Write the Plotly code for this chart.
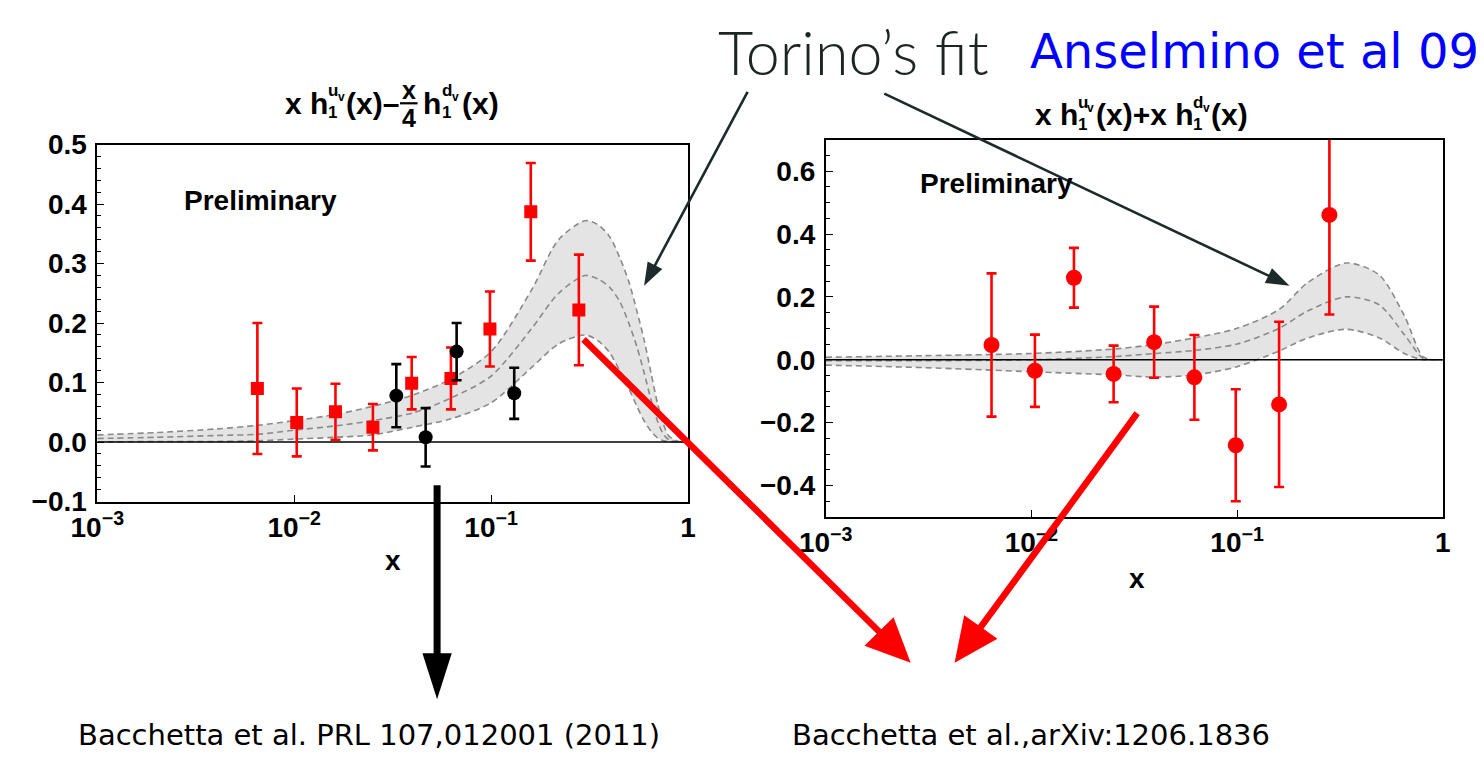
import plotly.graph_objects as go

W, H = 1484, 769

# ---------------- data: left panel  x h1^uv - x/4 h1^dv ----------------
x_red_l = [0.0065, 0.0103, 0.0162, 0.0251, 0.0395, 0.0625, 0.0986, 0.159, 0.279]
y_red_l = [0.090, 0.033, 0.051, 0.025, 0.099, 0.107, 0.190, 0.387, 0.222]
e_red_l = [0.110, 0.057, 0.047, 0.039, 0.044, 0.052, 0.063, 0.082, 0.093]

x_blk_l = [0.033, 0.0465, 0.0668, 0.131]
y_blk_l = [0.078, 0.008, 0.152, 0.082]
e_blk_l = [0.053, 0.049, 0.048, 0.043]

band_x_l = [0.001, 0.002, 0.004, 0.0065, 0.01, 0.016, 0.025, 0.04, 0.0625, 0.1,
            0.16, 0.22, 0.3, 0.35, 0.4, 0.45, 0.5, 0.55, 0.6, 0.65, 0.7, 0.75,
            0.8, 0.9, 1.0]
band_up_l = [0.012, 0.016, 0.022, 0.028, 0.036, 0.046, 0.060, 0.079, 0.106, 0.152,
             0.255, 0.340, 0.372, 0.365, 0.345, 0.310, 0.270, 0.220, 0.170, 0.115,
             0.065, 0.030, 0.010, 0.001, 0.0]
band_mid_l = [0.006, 0.008, 0.011, 0.013, 0.020, 0.027, 0.036, 0.049, 0.074, 0.111,
              0.190, 0.250, 0.280, 0.274, 0.260, 0.236, 0.200, 0.160, 0.115, 0.070,
              0.035, 0.013, 0.004, 0.0, 0.0]
band_lo_l = [0.000, 0.001, 0.001, 0.002, 0.005, 0.008, 0.012, 0.025, 0.039, 0.066,
             0.125, 0.165, 0.180, 0.170, 0.150, 0.120, 0.090, 0.060, 0.035, 0.018,
             0.007, 0.002, 0.001, 0.0, 0.0]

# ---------------- data: right panel  x h1^uv + x h1^dv ----------------
x_red_r = [0.0064, 0.0104, 0.0161, 0.0251, 0.0395, 0.0620, 0.0985, 0.160, 0.281]
y_red_r = [0.047, -0.035, 0.261, -0.045, 0.056, -0.056, -0.272, -0.142, 0.461]
e_red_r = [0.228, 0.115, 0.095, 0.090, 0.113, 0.135, 0.178, 0.263, 0.317]

band_x_r = [0.001, 0.003, 0.01, 0.025, 0.04, 0.0625, 0.1, 0.16, 0.22, 0.34,
            0.49, 0.65, 0.8, 0.9, 1.0]
band_up_r = [0.008, 0.013, 0.020, 0.034, 0.049, 0.070, 0.100, 0.160, 0.245, 0.308,
             0.270, 0.140, 0.010, 0.0, 0.0]
band_mid_r = [-0.003, -0.003, 0.000, 0.010, 0.020, 0.030, 0.050, 0.100, 0.155, 0.200,
              0.175, 0.080, 0.005, 0.0, 0.0]
band_lo_r = [-0.017, -0.025, -0.038, -0.048, -0.055, -0.048, -0.022, 0.028, 0.069, 0.097,
             0.070, 0.020, 0.0, 0.0, 0.0]

x_ticks = [0.001, 0.01, 0.1, 1]
x_ticktext = ["10<sup>\u22123</sup>", "10<sup>\u22122</sup>", "10<sup>\u22121</sup>", "1"]

PLOT_FONT = "Liberation Sans"
RED = "#ff0000"
BAND_FILL = "#e4e4e4"
BAND_LINE = "#8a8a8a"

fig = go.Figure()


def add_band(bx, lo, mid, up, xa, ya):
    dash_line = dict(color=BAND_LINE, width=1.6, dash="6px,4px", shape="spline", smoothing=0.8)
    fig.add_trace(go.Scatter(x=bx, y=lo, mode="lines", line=dash_line,
                             xaxis=xa, yaxis=ya, hoverinfo="skip"))
    fig.add_trace(go.Scatter(x=bx, y=up, mode="lines", line=dash_line, fill="tonexty",
                             fillcolor=BAND_FILL, xaxis=xa, yaxis=ya, hoverinfo="skip"))
    fig.add_trace(go.Scatter(x=bx, y=mid, mode="lines", line=dash_line,
                             xaxis=xa, yaxis=ya, hoverinfo="skip"))
    fig.add_trace(go.Scatter(x=[bx[0], bx[-1]], y=[0, 0], mode="lines",
                             line=dict(color="black", width=1.5), xaxis=xa, yaxis=ya,
                             hoverinfo="skip"))


def add_points(px, py, pe, color, symbol, size, xa, ya):
    fig.add_trace(go.Scatter(
        x=px, y=py, mode="markers",
        marker=dict(color=color, symbol=symbol, size=size, line=dict(width=0)),
        error_y=dict(type="data", array=pe, color=color, thickness=2.6, width=5),
        xaxis=xa, yaxis=ya))


add_band(band_x_l, band_lo_l, band_mid_l, band_up_l, "x", "y")
add_points(x_red_l, y_red_l, e_red_l, RED, "square", 13, "x", "y")
add_points(x_blk_l, y_blk_l, e_blk_l, "black", "circle", 14, "x", "y")

add_band(band_x_r, band_lo_r, band_mid_r, band_up_r, "x2", "y2")
add_points(x_red_r, y_red_r, e_red_r, RED, "circle", 16, "x2", "y2")

tickfont = dict(family=PLOT_FONT, size=28, color="black", weight="bold")


def xaxis_cfg(x0, x1):
    return dict(type="log", range=[-3, 0], domain=[x0 / W, x1 / W],
                tickvals=x_ticks, ticktext=x_ticktext, ticks="inside", ticklen=7,
                tickcolor="black", showline=True, linecolor="black", linewidth=1.6,
                mirror=True, showgrid=False, zeroline=False, tickfont=tickfont)


def yaxis_cfg(y_top, y_bot, rng, dtick, minor, anchor):
    return dict(range=rng, domain=[1 - y_bot / H, 1 - y_top / H], dtick=dtick,
                tickformat=".1f", ticks="inside", ticklen=7, tickcolor="black",
                minor=dict(dtick=minor, ticks="inside", ticklen=4, tickcolor="black"),
                showline=True, linecolor="black", linewidth=1.6, mirror=True,
                showgrid=False, zeroline=False, tickfont=tickfont, anchor=anchor,
                ticklabelstandoff=3)


xl = xaxis_cfg(72, 677); xl["anchor"] = "y"
xr = xaxis_cfg(818, 1450); xr["anchor"] = "y2"

annotations = []
shapes = []


def put(px, py, s, size, color="black", family=PLOT_FONT, weight="bold", anchor="left"):
    annotations.append(dict(x=px / W, y=1 - py / H, xref="paper", yref="paper", text=s,
                            showarrow=False, xanchor=anchor, yanchor="middle",
                            font=dict(family=family, size=size, color=color, weight=weight)))


# panel titles built piece by piece (stacked sub/superscripts)
put(262, 92, "x h", 30)
put(306, 102, "1", 17)
put(306, 79, "u", 17)
put(316, 85, "v", 12)
put(325, 92, "(x)\u2013", 30)
put(391, 78, "x", 25, anchor="center")
put(391, 107, "4", 25, anchor="center")
shapes.append(dict(type="line", xref="paper", yref="paper", x0=382 / W, x1=400 / W,
                   y0=1 - 92 / H, y1=1 - 92 / H, line=dict(color="black", width=2.2)))
put(404, 92, "h", 30)
put(423, 102, "1", 17)
put(423, 79, "d", 17)
put(433, 85, "v", 12)
put(443, 92, "(x)", 30)

put(1030, 104, "x h", 30)
put(1074, 114, "1", 17)
put(1074, 91, "u", 17)
put(1084, 97, "v", 12)
put(1093, 104, "(x)+x h", 30)
put(1192, 114, "1", 17)
put(1192, 91, "d", 17)
put(1202, 97, "v", 12)
put(1211, 104, "(x)", 30)

put(239, 193, "Preliminary", 28, anchor="center")
put(993, 176, "Preliminary", 28, anchor="center")
put(375, 568, "x", 28, anchor="center")
put(1137, 587, "x", 28, anchor="center")

put(846, 38, "Torino\u2019s fit", 61, color="#1c2424", family="Lato", weight=300, anchor="center")
put(1257, 38, "Anselmino et al 09", 48, color="#0000ff", family="DejaVu Sans", weight="normal",
    anchor="center")
put(350, 750, "Bacchetta et al. PRL 107,012001 (2011)", 29, family="DejaVu Sans",
    weight="normal", anchor="center")
put(1028, 750, "Bacchetta et al.,arXiv:1206.1836", 29, family="DejaVu Sans",
    weight="normal", anchor="center")


def arrow(tail, head, width, head_len, head_w, color):
    tx, ty = tail
    hx, hy = head
    dx, dy = hx - tx, hy - ty
    length = (dx * dx + dy * dy) ** 0.5
    ux, uy = dx / length, dy / length
    bx, by = hx - ux * head_len, hy - uy * head_len
    nx, ny = -uy, ux
    shapes.append(dict(type="line", xref="paper", yref="paper",
                       x0=tx / W, y0=1 - ty / H,
                       x1=(bx + ux * 3) / W, y1=1 - (by + uy * 3) / H,
                       line=dict(color=color, width=width)))
    pts = [(hx, hy), (bx + nx * head_w / 2, by + ny * head_w / 2),
           (bx - nx * head_w / 2, by - ny * head_w / 2)]
    path = "M " + " L ".join(f"{x / W:.5f},{1 - y / H:.5f}" for x, y in pts) + " Z"
    shapes.append(dict(type="path", xref="paper", yref="paper", path=path,
                       fillcolor=color, line=dict(color=color, width=0)))


DARK = "#1c2a2a"
arrow((738, 80), (632, 282), 2.6, 24, 17, DARK)
arrow((878, 82), (1293, 282), 2.6, 24, 17, DARK)
arrow((570, 338), (905, 675), 6.5, 46, 42, RED)
arrow((1137, 415), (950, 675), 6.5, 46, 42, RED)
arrow((420, 490), (420, 713), 7, 48, 30, "black")

fig.update_layout(
    width=W, height=H, margin=dict(l=0, r=0, t=0, b=0),
    paper_bgcolor="white", plot_bgcolor="white", showlegend=False,
    xaxis=xl, xaxis2=xr,
    yaxis=yaxis_cfg(135, 507, [-0.1, 0.5], 0.1, 0.02, "x"),
    yaxis2=yaxis_cfg(130, 523, [-0.5, 0.7], 0.2, 0.05, "x2"),
    annotations=annotations, shapes=shapes,
)

fig.write_html("out.html")
